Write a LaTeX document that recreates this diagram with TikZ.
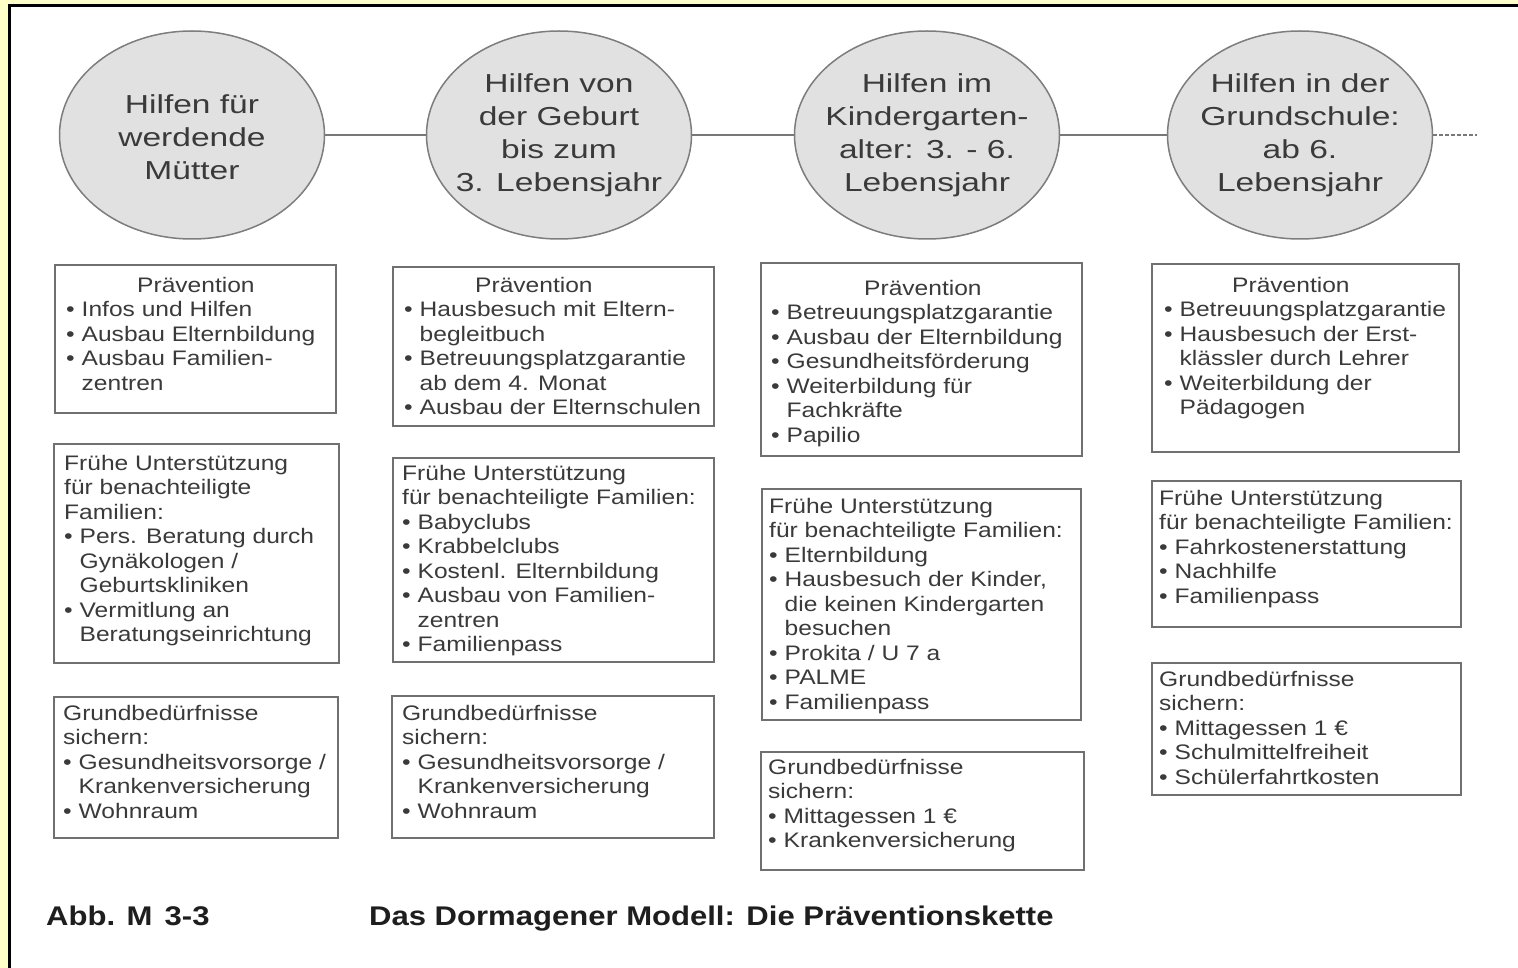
\documentclass[tikz,border=0pt]{standalone}
\usepackage{fontspec}
\setmainfont{Liberation Sans}[FakeStretch=1.17]
\newfontfamily\bubblefam{Liberation Sans}[FakeStretch=1.29]
\newfontfamily\capfam{Liberation Sans}[FakeStretch=1.15]
\usetikzlibrary{shapes.geometric}
\definecolor{frameyellow}{RGB}{255,255,200}
\definecolor{bubblefill}{RGB}{225,225,225}
\definecolor{bubbleline}{RGB}{125,125,125}
\definecolor{boxline}{RGB}{112,112,112}
\definecolor{conncol}{RGB}{120,120,120}
\definecolor{textgray}{RGB}{58,58,58}
\definecolor{captext}{RGB}{30,30,30}
\newcommand{\boxfont}{\fontsize{21}{24.5}\selectfont}
\newcommand{\bubblefont}{\bubblefam\fontsize{26}{33}\selectfont}
\newcommand{\capfont}{\capfam\bfseries\fontsize{27}{30}\selectfont}
\newcommand{\bul}{\makebox[15.5pt][l]{•}}
\newcommand{\ind}{\hspace*{15.5pt}}
\newcommand{\ibox}[5]{\node[infobox, minimum width={#4-#2}, minimum height={#5-#3}] (#1) at ({(#2+#4)/2},{(#3+#5)/2}) {};}
\tikzset{
  bubble/.style={ellipse, draw=bubbleline, fill=bubblefill, line width=1.5pt,
    minimum width=265pt, minimum height=208pt, inner sep=0pt},
  bubbletext/.style={inner sep=0pt, align=center, font=\bubblefont, text=textgray},
  infobox/.style={rectangle, draw=boxline, line width=1.8pt, inner sep=0pt},
  boxtext/.style={anchor=north west, inner sep=0pt, align=left, font=\boxfont, text=textgray},
  conn/.style={draw=conncol, line width=1.5pt},
  captxt/.style={anchor=base west, inner sep=0pt, font=\capfont, text=captext}
}
\begin{document}
\begin{tikzpicture}[x=1pt,y=-1pt]
\useasboundingbox (0,0) rectangle (1518,968);
% frame
\fill[frameyellow] (0,0) rectangle (1518,968);
\fill[white] (9.5,5.5) rectangle (1518,968);
\draw[black, line width=3pt] (9.5,968) -- (9.5,5.5) -- (1518,5.5);

% bubbles
\node[bubble] (e1) at (192,135) {};
\node[bubble] (e2) at (559,135) {};
\node[bubble] (e3) at (927,135) {};
\node[bubble] (e4) at (1300,135) {};
\node[bubbletext] (e1t) at (192,137) {Hilfen für\\werdende\\Mütter};
\node[bubbletext] (e2t) at (e2) {Hilfen von\\der Geburt\\bis zum\\3. Lebensjahr};
\node[bubbletext] (e3t) at (e3) {Hilfen im\\Kindergarten-\\alter: 3. - 6.\\Lebensjahr};
\node[bubbletext] (e4t) at (e4) {Hilfen in der\\Grundschule:\\ab 6.\\Lebensjahr};
\coordinate (tail) at (1477,135);
\draw[conn] (e1.east) -- (e2.west);
\draw[conn] (e2.east) -- (e3.west);
\draw[conn] (e3.east) -- (e4.west);
\draw[conn, dash pattern=on 4pt off 2pt] (e4.east) -- (tail);

% boxes
\ibox{p1}{55}{265}{336}{413}
\ibox{f1}{54}{444}{339}{663}
\ibox{g1}{54}{697}{338}{838}
\ibox{p2}{393}{267}{714}{426}
\ibox{f2}{393}{458}{714}{662}
\ibox{g2}{392}{696}{714}{838}
\ibox{p3}{761}{263}{1082}{456}
\ibox{f3}{762}{489}{1081}{720}
\ibox{g3}{761}{752}{1084}{870}
\ibox{p4}{1152}{264}{1459}{452}
\ibox{f4}{1152}{481}{1461}{627}
\ibox{g4}{1152}{663}{1461}{795}

% column 1
\node[boxtext] (tp1) at (66,277) {\hspace*{71pt}Prävention\\\bul Infos und Hilfen\\\bul Ausbau Elternbildung\\\bul Ausbau Familien-\\\ind zentren};
\node[boxtext] (tf1) at (64,455) {Frühe Unterstützung\\für benachteiligte\\Familien:\\\bul Pers. Beratung durch\\\ind Gynäkologen /\\\ind Geburtskliniken\\\bul Vermitlung an\\\ind Beratungseinrichtung};
\node[boxtext] (tg1) at (63,705) {Grundbedürfnisse\\sichern:\\\bul Gesundheitsvorsorge /\\\ind Krankenversicherung\\\bul Wohnraum};

% column 2
\node[boxtext] (tp2) at (404,277) {\hspace*{71pt}Prävention\\\bul Hausbesuch mit Eltern-\\\ind begleitbuch\\\bul Betreuungsplatzgarantie\\\ind ab dem 4. Monat\\\bul Ausbau der Elternschulen};
\node[boxtext] (tf2) at (402,465) {Frühe Unterstützung\\für benachteiligte Familien:\\\bul Babyclubs\\\bul Krabbelclubs\\\bul Kostenl. Elternbildung\\\bul Ausbau von Familien-\\\ind zentren\\\bul Familienpass};
\node[boxtext] (tg2) at (402,705) {Grundbedürfnisse\\sichern:\\\bul Gesundheitsvorsorge /\\\ind Krankenversicherung\\\bul Wohnraum};

% column 3
\node[boxtext] (tp3) at (771,280) {\hspace*{93pt}Prävention\\\bul Betreuungsplatzgarantie\\\bul Ausbau der Elternbildung\\\bul Gesundheitsförderung\\\bul Weiterbildung für\\\ind Fachkräfte\\\bul Papilio};
\node[boxtext] (tf3) at (769,498) {Frühe Unterstützung\\für benachteiligte Familien:\\\bul Elternbildung\\\bul Hausbesuch der Kinder,\\\ind die keinen Kindergarten\\\ind besuchen\\\bul Prokita / U 7 a\\\bul PALME\\\bul Familienpass};
\node[boxtext] (tg3) at (768,759) {Grundbedürfnisse\\sichern:\\\bul Mittagessen 1 €\\\bul Krankenversicherung};

% column 4
\node[boxtext] (tp4) at (1164,277) {\hspace*{68pt}Prävention\\\bul Betreuungsplatzgarantie\\\bul Hausbesuch der Erst-\\\ind klässler durch Lehrer\\\bul Weiterbildung der\\\ind Pädagogen};
\node[boxtext] (tf4) at (1159,490) {Frühe Unterstützung\\für benachteiligte Familien:\\\bul Fahrkostenerstattung\\\bul Nachhilfe\\\bul Familienpass};
\node[boxtext] (tg4) at (1159,671) {Grundbedürfnisse\\sichern:\\\bul Mittagessen 1 €\\\bul Schulmittelfreiheit\\\bul Schülerfahrtkosten};

% caption
\node[captxt] (abb) at (46,925) {Abb. M\hspace{0.45em}3-3};
\node[captxt] (title) at (369,925) {Das Dormagener Modell: Die Präventionskette};
\end{tikzpicture}
\end{document}
